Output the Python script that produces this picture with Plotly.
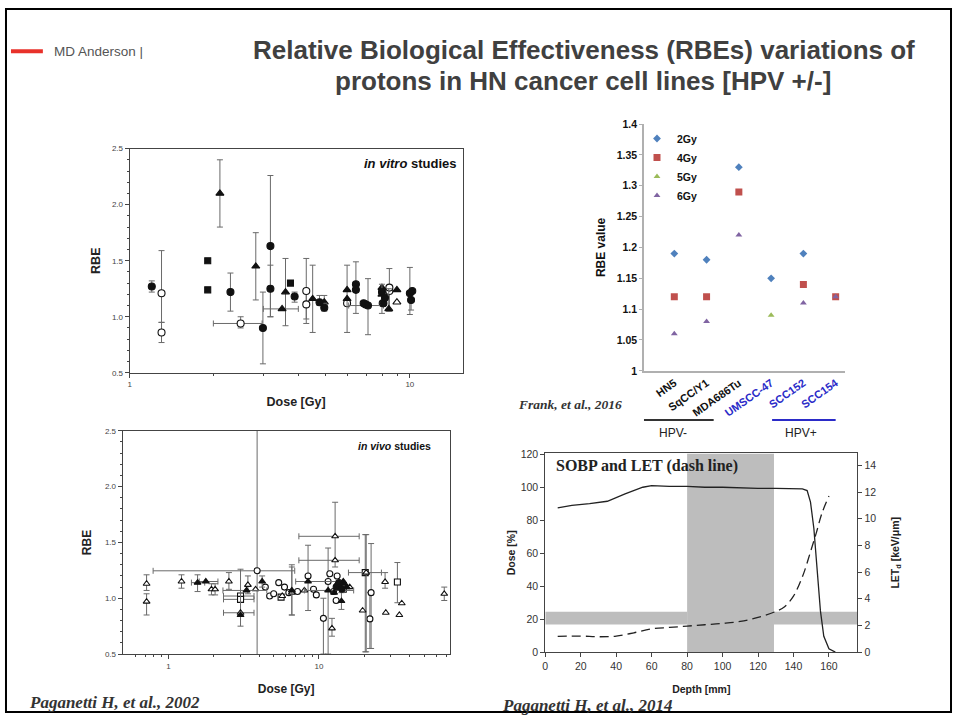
import plotly.graph_objects as go

W, H = 954, 723

# ------------------------------------------------------------------ data
# point tuples: (dose, rbe, rbe_lo, rbe_hi, dose_lo, dose_hi)  (None = no error bar)
VITRO_FILLED_CIRCLE = [
    (1.20, 1.27, 1.22, 1.32, None, None),
    (2.29, 1.22, 1.05, 1.39, None, None),
    (2.99, 0.90, 0.58, 1.22, None, None),
    (3.18, 1.63, 1.00, 2.26, None, None),
    (3.18, 1.25, 1.00, 1.46, None, None),
    (3.88, 1.18, 1.13, 1.22, None, None),
    (4.76, 1.13, 1.10, 1.19, None, None),
    (4.95, 1.08, 1.05, 1.12, None, None),
    (6.42, 1.29, 1.03, 1.49, None, None),
    (6.42, 1.24, None, None, None, None),
    (6.84, 1.12, None, None, None, None),
    (6.95, 1.11, None, None, None, None),
    (7.09, 1.10, 0.84, 1.34, 6.05, 8.05),
    (7.95, 1.22, 1.03, 1.29, None, None),
    (8.05, 1.12, None, None, None, None),
    (8.15, 1.17, None, None, None, None),
    (10.0, 1.21, 1.02, 1.44, None, None),
    (10.2, 1.23, None, None, None, None),
    (10.1, 1.15, 1.06, 1.20, None, None),
]
VITRO_FILLED_SQUARE = [
    (1.90, 1.50, None, None, None, None),
    (1.90, 1.24, 1.22, 1.26, None, None),
    (3.75, 1.30, None, None, None, None),
]
VITRO_FILLED_TRIANGLE = [
    (2.10, 2.10, 1.80, 2.40, None, None),
    (2.82, 1.45, 1.15, 1.75, None, None),
    (3.50, 1.07, None, None, 3.00, 4.00),
    (3.60, 1.22, 0.92, 1.52, None, None),
    (4.50, 1.16, 0.86, 1.46, None, None),
    (4.95, 1.13, 1.10, 1.19, None, None),
    (5.97, 1.24, 0.86, 1.46, None, None),
    (5.97, 1.16, None, None, None, None),
    (7.95, 1.26, None, None, None, None),
    (7.95, 1.20, None, None, None, None),
    (8.41, 1.07, 1.05, 1.25, None, None),
    (8.99, 1.24, None, None, None, None),
]
VITRO_OPEN_CIRCLE = [
    (1.30, 1.21, 0.95, 1.59, None, None),
    (1.30, 0.86, 0.77, 0.95, None, None),
    (2.49, 0.94, 0.90, 1.00, 1.99, 2.97),
    (4.27, 1.23, 0.98, 1.52, None, None),
    (4.27, 1.11, 0.94, 1.22, None, None),
    (5.97, 1.12, None, None, None, None),
    (8.00, 1.12, None, None, None, None),
    (8.45, 1.23, 1.05, 1.43, None, None),
    (8.45, 1.26, None, None, None, None),
]
VITRO_OPEN_TRIANGLE = [
    (8.99, 1.13, None, None, None, None),
]

VIVO_OPEN_TRIANGLE = [
    (0.715, 1.13, 1.07, 1.21, None, None),
    (0.715, 0.97, 0.85, 1.04, None, None),
    (1.22, 1.15, 1.09, 1.21, None, None),
    (1.93, 1.08, 1.03, 1.13, None, None),
    (2.04, 1.08, 1.03, 1.13, None, None),
    (2.52, 1.15, 1.08, 1.23, None, None),
    (3.01, 0.87, 0.75, 1.26, 2.32, 3.70),
    (3.37, 1.12, 1.04, 1.20, None, None),
    (3.79, 1.08, None, None, None, None),
    (5.70, 1.02, None, None, None, None),
    (6.60, 1.05, 0.85, 1.30, None, None),
    (8.00, 1.07, None, None, None, None),
    (12.8, 1.555, 1.28, 1.86, 7.35, 18.5),
    (12.8, 1.34, None, None, 7.35, 18.5),
    (12.2, 0.73, 0.66, 0.82, None, None),
    (14.0, 1.09, None, None, None, None),
    (16.0, 1.10, None, None, None, None),
    (19.5, 0.89, None, None, None, None),
    (20.6, 1.23, 0.52, 1.57, 15.7, 26.0),
    (27.5, 1.146, 1.09, 1.23, None, None),
    (27.8, 0.87, None, None, None, None),
    (34.2, 0.85, None, None, None, None),
    (35.5, 0.955, None, None, None, None),
    (68.0, 1.04, 0.98, 1.10, None, None),
]
VIVO_OPEN_CIRCLE = [
    (3.88, 1.246, 0.30, 2.80, 0.79, 6.90),
    (4.40, 1.10, None, None, None, None),
    (4.70, 1.02, None, None, None, None),
    (5.00, 1.04, None, None, None, None),
    (5.40, 1.14, None, None, None, None),
    (5.90, 1.10, None, None, None, None),
    (6.30, 1.05, None, None, None, None),
    (7.20, 1.06, None, None, None, None),
    (8.46, 1.20, 0.89, 1.475, None, None),
    (9.20, 1.08, None, None, None, None),
    (9.60, 1.03, None, None, None, None),
    (10.7, 0.82, 0.50, 1.00, None, None),
    (11.5, 1.15, 0.50, 1.45, None, None),
    (11.8, 1.22, None, None, None, None),
    (12.5, 1.06, None, None, None, None),
    (13.0, 0.98, None, None, None, None),
    (13.2, 1.20, None, None, None, None),
    (21.8, 0.815, 0.55, 1.05, None, None),
    (22.2, 1.05, 0.55, 1.49, None, None),
]
VIVO_OPEN_SQUARE = [
    (3.01, 1.02, None, None, 2.32, 3.70),
    (3.01, 0.99, None, None, 2.32, 3.70),
    (5.60, 1.01, None, None, None, None),
    (13.5, 1.12, None, None, None, None),
    (14.5, 1.08, None, None, None, None),
    (20.3, 1.23, 0.52, 1.57, None, None),
    (33.2, 1.145, 0.96, 1.32, None, None),
]
VIVO_FILLED_TRIANGLE = [
    (1.56, 1.14, 1.06, 1.21, 1.42, 1.74),
    (1.77, 1.15, None, None, 1.60, 2.13),
    (3.01, 0.85, None, None, None, None),
    (3.30, 1.07, None, None, 2.30, 4.50),
    (4.19, 1.15, 1.10, 1.20, None, None),
    (6.60, 1.07, 0.85, 1.28, None, None),
    (8.46, 1.15, None, None, 7.00, 13.0),
    (11.5, 1.07, None, None, 8.00, 17.0),
    (12.6, 1.05, None, None, None, None),
    (13.2, 1.13, None, None, None, None),
    (13.8, 1.11, None, None, None, None),
    (14.1, 0.975, 0.90, 1.05, None, None),
    (14.5, 1.15, None, None, None, None),
    (14.8, 1.13, None, None, None, None),
    (15.3, 1.10, None, None, None, None),
]
VIVO_FILLED_CIRCLE = [
    (13.0, 1.10, None, None, None, None),
    (13.6, 1.14, None, None, None, None),
    (14.2, 1.08, None, None, None, None),
]

# Frank et al. 2016
CELL_LINES = ["HN5", "SqCC/Y1", "MDA686Tu", "UMSCC-47", "SCC152", "SCC154"]
HPV_POSITIVE = [False, False, False, True, True, True]
RBE_2GY = [1.19, 1.18, 1.33, 1.15, 1.19, None]
RBE_4GY = [1.12, 1.12, 1.29, None, 1.14, 1.12]
RBE_5GY = [None, None, None, 1.09, None, None]
RBE_6GY = [1.06, 1.08, 1.22, None, 1.11, 1.12]
RBE_TICKS = [1.0, 1.05, 1.1, 1.15, 1.2, 1.25, 1.3, 1.35, 1.4]

# Paganetti 2014 SOBP
DEPTH_DOSE = [7, 15, 25, 35, 45, 55, 60, 70, 80, 90, 100, 110, 120, 130, 140, 145,
              147.7, 149.6, 151.5, 152.4, 153.4, 155.2, 157.1, 160, 163.6]
DOSE_PCT = [87.5, 89, 90, 91.5, 96, 100, 101, 100.5, 100.5, 100, 100, 99.5, 99.3, 99.3, 99.3, 99,
            98, 91, 75, 63, 49, 25, 9.6, 2, 0]
DEPTH_LET = [7, 20, 30, 40, 50, 60, 70, 80, 90, 100, 110, 120, 130, 135, 140, 143, 146, 150, 153, 156, 160]
LET_D = [1.18, 1.2, 1.15, 1.2, 1.45, 1.75, 1.85, 1.95, 2.05, 2.15, 2.3, 2.6, 3.05, 3.4, 4.2, 5.0, 6.0, 7.7, 9.0, 10.4, 11.7]
TARGET_DEPTH = [80, 129]          # shaded target region (mm)
ORGAN_DOSE = [16.7, 24.5]         # shaded horizontal band (dose %)

# ------------------------------------------------------------------ helpers
def fx(p):
    return p / W


def fy(p):
    return 1 - p / H


fig = go.Figure()
ERR_COLOR = "#6a6a6a"
SANS = "Liberation Sans, Arial"
SERIF = "Liberation Serif, Times New Roman"


def add_points(pts, xa, ya, symbol, filled, size):
    ye = [p for p in pts if p[2] is not None]
    if ye:
        fig.add_trace(go.Scatter(
            x=[p[0] for p in ye], y=[p[1] for p in ye], mode="markers",
            marker=dict(size=1, color="rgba(0,0,0,0)"), xaxis=xa, yaxis=ya, showlegend=False,
            hoverinfo="skip",
            error_y=dict(type="data", symmetric=False, array=[p[3] - p[1] for p in ye],
                         arrayminus=[p[1] - p[2] for p in ye], color=ERR_COLOR, thickness=1, width=3)))
    xe = [p for p in pts if p[4] is not None]
    if xe:
        fig.add_trace(go.Scatter(
            x=[p[0] for p in xe], y=[p[1] for p in xe], mode="markers",
            marker=dict(size=1, color="rgba(0,0,0,0)"), xaxis=xa, yaxis=ya, showlegend=False,
            hoverinfo="skip",
            error_x=dict(type="data", symmetric=False, array=[p[5] - p[0] for p in xe],
                         arrayminus=[p[0] - p[4] for p in xe], color=ERR_COLOR, thickness=1, width=3)))
    fig.add_trace(go.Scatter(
        x=[p[0] for p in pts], y=[p[1] for p in pts], mode="markers", xaxis=xa, yaxis=ya,
        showlegend=False,
        marker=dict(symbol=symbol, size=size, color="#111111" if filled else "white",
                    line=dict(color="#111111", width=1.1))))


add_points(VITRO_OPEN_CIRCLE, "x", "y", "circle", False, 7)
add_points(VITRO_OPEN_TRIANGLE, "x", "y", "triangle-up", False, 7)
add_points(VITRO_FILLED_SQUARE, "x", "y", "square", True, 6)
add_points(VITRO_FILLED_TRIANGLE, "x", "y", "triangle-up", True, 7)
add_points(VITRO_FILLED_CIRCLE, "x", "y", "circle", True, 7)

add_points(VIVO_OPEN_CIRCLE, "x2", "y2", "circle", False, 6)
add_points(VIVO_OPEN_SQUARE, "x2", "y2", "square", False, 6)
add_points(VIVO_OPEN_TRIANGLE, "x2", "y2", "triangle-up", False, 6)
add_points(VIVO_FILLED_TRIANGLE, "x2", "y2", "triangle-up", True, 6)
add_points(VIVO_FILLED_CIRCLE, "x2", "y2", "circle", True, 6)

# Frank
idx = list(range(len(CELL_LINES)))
for name, vals, sym, col, sz in [("2Gy", RBE_2GY, "diamond", "#4f81bd", 6),
                                 ("4Gy", RBE_4GY, "square", "#c0504d", 7),
                                 ("5Gy", RBE_5GY, "triangle-up", "#9bbb59", 6),
                                 ("6Gy", RBE_6GY, "triangle-up", "#8064a2", 6)]:
    fig.add_trace(go.Scatter(x=idx, y=vals, mode="markers", name="<b>%s</b>" % name,
                             xaxis="x3", yaxis="y3",
                             marker=dict(symbol=sym, size=sz, color=col, line=dict(width=0))))

# SOBP
fig.add_trace(go.Scatter(x=DEPTH_DOSE, y=DOSE_PCT, mode="lines", xaxis="x4", yaxis="y4",
                         line=dict(color="#222222", width=1.3), showlegend=False))
fig.add_trace(go.Scatter(x=DEPTH_LET, y=LET_D, mode="lines", xaxis="x4", yaxis="y5",
                         line=dict(color="#222222", width=1.3, dash="9px,5px", shape="spline"),
                         showlegend=False))

# ------------------------------------------------------------------ axes
TF = dict(family=SANS, size=8, color="#444")
TT = dict(family=SANS, size=12.5, color="#222")
TT2 = dict(family=SANS, size=12, color="#222")
SF = dict(family=SANS, size=10.5, color="#333")
ST = dict(family=SANS, size=10.5, color="#222")
common = dict(showline=True, linecolor="#444", linewidth=1, mirror=True, ticks="outside",
              ticklen=4, tickcolor="#444", showgrid=False, zeroline=False, tickfont=TF)

fig.update_layout(
    width=W, height=H, margin=dict(l=0, r=0, t=0, b=0),
    paper_bgcolor="white", plot_bgcolor="white",
    xaxis=dict(common, type="log", domain=[fx(127), fx(461)], range=[0, 1.188], anchor="y",
               tickvals=[1, 10], ticktext=["1", "10"],
               minor=dict(tickvals=[2, 3, 4, 5, 6, 7, 8, 9], ticks="outside", ticklen=2, tickcolor="#444"),
               title=dict(text="<b>Dose [Gy]</b>", font=TT, standoff=8)),
    yaxis=dict(common, domain=[fy(373), fy(145)], range=[0.5, 2.5], anchor="x", dtick=0.5,
               tickformat=".1f", minor=dict(dtick=0.1, ticks="outside", ticklen=2, tickcolor="#444"),
               title=dict(text="<b>RBE</b>", font=TT, standoff=8)),
    xaxis2=dict(common, type="log", domain=[fx(120), fx(448)], range=[-0.305, 1.868], anchor="y2",
                tickvals=[1, 10], ticktext=["1", "10"],
                minor=dict(tickvals=[0.6, 0.7, 0.8, 0.9, 2, 3, 4, 5, 6, 7, 8, 9, 20, 30, 40, 50, 60, 70],
                           ticks="outside", ticklen=2, tickcolor="#444"),
                title=dict(text="<b>Dose [Gy]</b>", font=TT2, standoff=14)),
    yaxis2=dict(common, domain=[fy(659), fy(432)], range=[0.5, 2.5], anchor="x2", dtick=0.5,
                tickformat=".1f", minor=dict(dtick=0.1, ticks="outside", ticklen=2, tickcolor="#444"),
                title=dict(text="<b>RBE</b>", font=TT2, standoff=10)),
    xaxis3=dict(domain=[fx(643), fx(845)], range=[-0.94, 5.3], anchor="y3", showline=True,
                linecolor="#b0b0b0", linewidth=1.5, showgrid=False, zeroline=False, ticks="",
                tickvals=idx,
                ticktext=[("<span style='color:#2b2bc8'><b>%s</b></span>" % c) if p else "<b>%s</b>" % c
                          for c, p in zip(CELL_LINES, HPV_POSITIVE)],
                tickangle=-35, tickfont=dict(family=SANS, size=11, color="#111")),
    yaxis3=dict(domain=[fy(371), fy(120)], range=[1, 1.4], anchor="x3", showline=True,
                linecolor="#b0b0b0", linewidth=1.5, showgrid=False, zeroline=False,
                tickvals=RBE_TICKS, ticktext=["<b>%g</b>" % v for v in RBE_TICKS],
                ticks="outside", ticklen=3, tickcolor="#b0b0b0",
                tickfont=dict(family=SANS, size=10.5, color="#111"),
                title=dict(text="<b>RBE value</b>", font=dict(family=SANS, size=12, color="#111"),
                           standoff=8)),
    xaxis4=dict(common, domain=[fx(544), fx(857)], range=[0, 176], anchor="y4", dtick=20,
                mirror=True, tickfont=SF,
                title=dict(text="<b>Depth [mm]</b>", font=ST, standoff=14)),
    yaxis4=dict(common, domain=[fy(657), fy(455)], range=[0, 120.5], anchor="x4", dtick=20,
                mirror=False, tickfont=SF,
                title=dict(text="<b>Dose [%]</b>", font=ST, standoff=2)),
    yaxis5=dict(common, overlaying="y4", side="right", range=[0, 14.9], anchor="x4", dtick=2,
                mirror=False, tickfont=SF,
                title=dict(text="<b>LET<sub>d</sub> [keV/μm]</b>", font=ST, standoff=16)),
    legend=dict(x=fx(636), y=fy(120), xanchor="left", yanchor="top", bgcolor="rgba(0,0,0,0)",
                font=dict(family=SANS, size=10.5, color="#111"),
                itemwidth=30, tracegroupgap=0),
)

# ------------------------------------------------------------------ shapes
shapes = [
    dict(type="rect", xref="paper", yref="paper", x0=fx(3), x1=fx(951), y0=fy(718), y1=fy(3),
         line=dict(color="black", width=2), layer="above"),
    dict(type="line", xref="paper", yref="paper", x0=fx(8), x1=fx(40), y0=fy(46), y1=fy(46),
         line=dict(color="#e8312a", width=4)),
    dict(type="rect", xref="x4", yref="y4", x0=TARGET_DEPTH[0], x1=TARGET_DEPTH[1], y0=0, y1=120.5,
         fillcolor="#bdbdbd", line=dict(width=0), layer="below"),
    dict(type="rect", xref="x4", yref="y4", x0=0, x1=TARGET_DEPTH[0], y0=ORGAN_DOSE[0], y1=ORGAN_DOSE[1],
         fillcolor="#bdbdbd", line=dict(width=0), layer="below"),
    dict(type="rect", xref="x4", yref="y4", x0=TARGET_DEPTH[1], x1=176, y0=ORGAN_DOSE[0], y1=ORGAN_DOSE[1],
         fillcolor="#bdbdbd", line=dict(width=0), layer="below"),
    dict(type="line", xref="x3", yref="paper", x0=-1.25, x1=1.22, y0=fy(421), y1=fy(421),
         line=dict(color="#333", width=2)),
    dict(type="line", xref="x3", yref="paper", x0=3.03, x1=5.0, y0=fy(421), y1=fy(421),
         line=dict(color="#2b2bc8", width=2)),
]
fig.update_layout(shapes=shapes)

ann = [
    dict(text="<b>Relative Biological Effectiveness (RBEs) variations of</b>", x=fx(583), y=fy(45),
         font=dict(family=SANS, size=26, color="#404040")),
    dict(text="<b>protons in HN cancer cell lines [HPV +/-]</b>", x=fx(582), y=fy(76),
         font=dict(family=SANS, size=26, color="#404040")),
    dict(text="MD Anderson |", x=fx(49), y=fy(46), xanchor="left",
         font=dict(family=SANS, size=13.5, color="#555")),
    dict(text="<b><i>in vitro</i> studies</b>", x=fx(456), y=fy(160), xanchor="right",
         font=dict(family=SANS, size=13, color="#111")),
    dict(text="<b><i>in vivo</i> studies</b>", x=fx(431), y=fy(447), xanchor="right",
         font=dict(family=SANS, size=10.5, color="#111")),
    dict(text="<b>SOBP and LET (dash line)</b>", x=fx(553), y=fy(468), xanchor="left",
         font=dict(family=SERIF, size=16, color="#222")),
    dict(text="<b><i>Frank, et al., 2016</i></b>", x=fx(515), y=fy(405), xanchor="left",
         font=dict(family=SERIF, size=13.5, color="#333")),
    dict(text="<b><i>Paganetti H, et al., 2002</i></b>", x=fx(24), y=fy(708), xanchor="left",
         font=dict(family=SERIF, size=17, color="#333")),
    dict(text="<b><i>Paganetti H, et al., 2014</i></b>", x=fx(499), y=fy(711), xanchor="left",
         font=dict(family=SERIF, size=17, color="#333")),
    dict(text="HPV-", x=fx(672), y=fy(434), font=dict(family=SANS, size=12, color="#222")),
    dict(text="HPV+", x=fx(801), y=fy(434), font=dict(family=SANS, size=12, color="#222")),
]
for a in ann:
    a.setdefault("xref", "paper")
    a.setdefault("yref", "paper")
    a.setdefault("showarrow", False)
    a.setdefault("xanchor", "center")
    a.setdefault("yanchor", "middle")
fig.update_layout(annotations=ann)

fig.write_html("out.html", config={"displayModeBar": False},
               post_script="document.body.style.margin='0px';document.body.style.overflow='hidden';")
